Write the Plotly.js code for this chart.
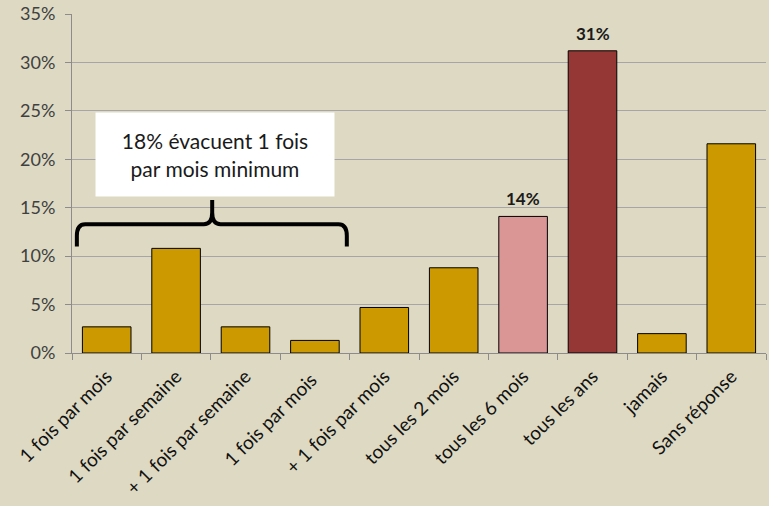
<!DOCTYPE html>
<html><head><meta charset="utf-8">
<script src="https://cdn.plot.ly/plotly-3.0.1.min.js"></script>
<style>html,body{margin:0;padding:0;background:#ddd9c3;}</style>
</head><body>
<div id="chart" style="width:769px;height:506px;"></div>
<script>
const categories = ["1 fois par mois", "1 fois par semaine", "+ 1 fois par semaine", "1 fois par mois ", "+ 1 fois par mois", "tous les 2 mois", "tous les 6 mois", "tous les ans", "jamais", "Sans réponse"];
const values = [0.027, 0.108, 0.027, 0.013, 0.047, 0.088, 0.141, 0.312, 0.020, 0.216];
const barColors = ["#cc9900","#cc9900","#cc9900","#cc9900","#cc9900","#cc9900","#d99694","#953735","#cc9900","#cc9900"];
const labeledIdx = [6, 7];
const labelText = ["14%", "31%"];
const boxText = "18% évacuent 1 fois<br>par mois minimum";

const font = "Lato, 'Open Sans', sans-serif";
const trace = {
  type: "bar", x: categories, y: values,
  marker: {color: barColors, line: {color: "#000000", width: 1}},
  hoverinfo: "skip"
};
const annotations = labeledIdx.map((i, k) => ({
  x: categories[i], y: values[i], xref: "x", yref: "y",
  text: "<b>" + labelText[k] + "</b>", showarrow: false,
  yanchor: "bottom", yshift: 5, font: {family: font, size: 17, color: "#1a1a1a"}
}));
annotations.push({
  x: 1.56, y: 0.205, xref: "x", yref: "y", text: boxText, showarrow: false,
  bgcolor: "#ffffff", width: 236, height: 81, align: "center", valign: "middle",
  font: {family: font, size: 21, color: "#1a1a1a"}
});
// brace (data coords on category index)
const bx0 = -0.43, bx1 = 3.46, bxm = 1.52, byh = 0.133, bye = 0.110, byt = 0.158, d = 0.12, dy = 0.012;
const bracePath = `M ${bx0},${bye} L ${bx0},${byh-dy} Q ${bx0},${byh} ${bx0+d},${byh} L ${bxm-d},${byh} Q ${bxm},${byh} ${bxm},${byh+dy} L ${bxm},${byt} L ${bxm},${byh+dy} Q ${bxm},${byh} ${bxm+d},${byh} L ${bx1-d},${byh} Q ${bx1},${byh} ${bx1},${byh-dy} L ${bx1},${bye}`;
const layout = {
  width: 769, height: 506,
  margin: {l: 72, r: 3, t: 14, b: 153},
  paper_bgcolor: "#ddd9c3", plot_bgcolor: "#ddd9c3",
  bargap: 0.3, showlegend: false,
  font: {family: font, size: 15, color: "#222"},
  xaxis: {
    type: "category", tickangle: -45, tickson: "boundaries",
    ticks: "outside", ticklen: 6, tickcolor: "#8c8c8c",
    showline: true, linecolor: "#8c8c8c", linewidth: 1,
    showgrid: false, tickfont: {family: font, size: 19, color: "#111111"},
    ticklabelstandoff: 4,
    range: [-0.5, 9.5], fixedrange: true
  },
  yaxis: {
    range: [0, 0.35], dtick: 0.05, tickformat: ".0%",
    ticks: "outside", ticklen: 6, tickcolor: "#8c8c8c",
    showline: true, linecolor: "#8c8c8c", linewidth: 1,
    gridcolor: "#a6a6a6", gridwidth: 1, zeroline: false,
    tickfont: {family: font, size: 18, color: "#404040"}, ticklabelstandoff: 6,
    fixedrange: true
  },
  annotations: annotations,
  shapes: [{type: "path", xref: "x", yref: "y", path: bracePath,
    line: {color: "#000000", width: 4}, fillcolor: "rgba(0,0,0,0)"}]
};
Plotly.newPlot("chart", [trace], layout, {displayModeBar: false, staticPlot: true});
</script>
</body></html>
